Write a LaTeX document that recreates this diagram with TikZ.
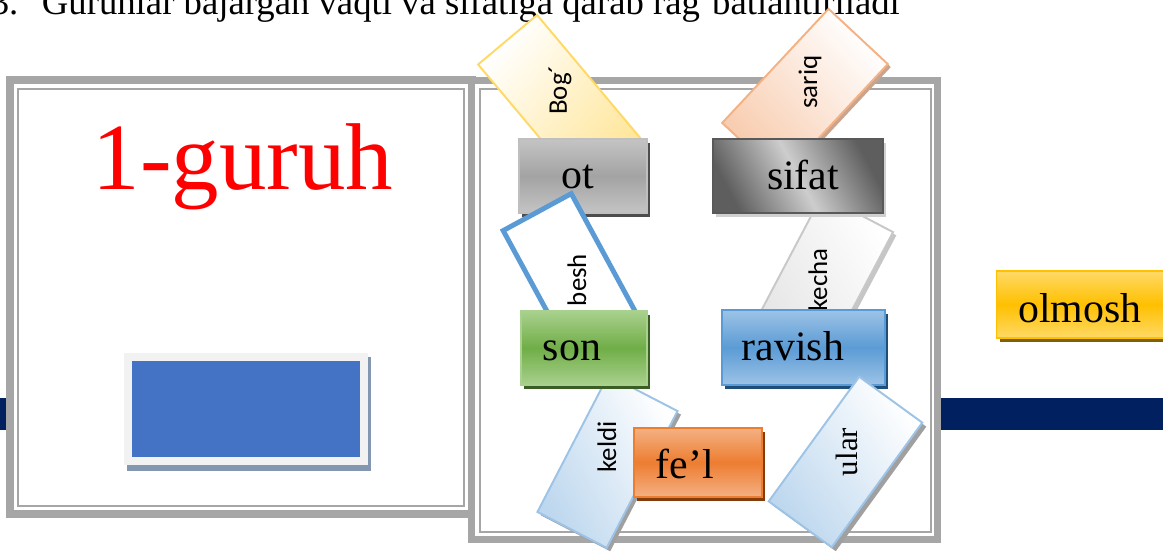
\documentclass[tikz,border=0pt]{standalone}
\usepackage{fontspec}
\setmainfont{Liberation Serif}
\newfontfamily\cardfont{Carlito}
\definecolor{navy}{HTML}{002060}
\definecolor{framegray}{HTML}{A6A6A6}
\definecolor{blueRect}{HTML}{4472C4}
\definecolor{blueRectSh}{HTML}{8497B0}
\definecolor{lightFrame}{HTML}{F2F2F2}
\definecolor{otTop}{HTML}{C4C4C4}
\definecolor{otMid}{HTML}{A3A3A3}
\definecolor{otBd}{HTML}{BFBFBF}
\definecolor{otSh}{HTML}{4D4D4D}
\definecolor{sfDark}{HTML}{5E5E5E}
\definecolor{sfLight}{HTML}{CDCDCD}
\definecolor{sfBd}{HTML}{595959}
\definecolor{sfSh}{HTML}{D0D0D0}
\definecolor{gnTop}{HTML}{A9D18E}
\definecolor{gnMid}{HTML}{70AD47}
\definecolor{gnSh}{HTML}{3B5E25}
\definecolor{blTop}{HTML}{9DC3E6}
\definecolor{blMid}{HTML}{5B9BD5}
\definecolor{blSh}{HTML}{1F4E79}
\definecolor{orTop}{HTML}{F4B183}
\definecolor{orMid}{HTML}{ED7D31}
\definecolor{orSh}{HTML}{843C0C}
\definecolor{ylTop}{HTML}{FFD966}
\definecolor{ylMid}{HTML}{FFC000}
\definecolor{ylSh}{HTML}{7F6000}
\definecolor{bogFill}{HTML}{FFE699}
\definecolor{bogBd}{HTML}{FFD966}
\definecolor{sarFill}{HTML}{F8CBAD}
\definecolor{sarBd}{HTML}{F4B183}
\definecolor{sarSh}{HTML}{C9A48E}
\definecolor{kecFill}{HTML}{E4E4E4}
\definecolor{kecBd}{HTML}{C8C8C8}
\definecolor{cardSh}{HTML}{A0A0A0}
\definecolor{ltBlue}{HTML}{BDD7EE}
\definecolor{ltBlueBd}{HTML}{9DC3E6}
\tikzset{
  pbox/.style={rectangle, inner sep=0pt, line width=1pt},
  shbox/.style={rectangle, inner sep=0pt, draw=none},
  lbl/.style={font=\fontsize{23.8}{28}\selectfont, inner sep=0pt, anchor=base},
  clbl/.style={font=\cardfont\fontsize{15.3}{18}\selectfont, rotate=90, inner sep=0pt},
  slbl/.style={font=\fontsize{17.6}{20}\selectfont, rotate=90, inner sep=0pt},
  card/.style={rectangle, inner sep=0pt, line width=1.1pt},
  thickframe/.style={draw=framegray, line width=4.5pt},
  thinframe/.style={draw=framegray, line width=1.1pt},
}
\begin{document}
\begin{tikzpicture}[x=0.02cm,y=-0.02cm]
\useasboundingbox (0,0) rectangle (1163,554);
\clip (0,0) rectangle (1163,554);
% navy band
\fill[navy] (0,398) rectangle (1163,430);
% left box
\fill[white] (6,76) rectangle (476,518);
\draw[thickframe] (10,80) rectangle (472,514);
\draw[thinframe] (18,89) rectangle (464,506);
% right box
\fill[white] (468,77) rectangle (941,543);
\draw[thickframe] (471.5,80.5) rectangle (937.5,539.5);
\draw[thinframe] (480,89) rectangle (931,532);
% blue rectangle in left box
\fill[blueRectSh] (127,357) rectangle (371,471);
\fill[lightFrame] (124,353) rectangle (368,465);
\node[rectangle, fill=blueRect, minimum width=4.56cm, minimum height=1.92cm, inner sep=0pt] (blue) at (246,409) {};
% title
\node[font=\fontsize{54}{60}\selectfont, text=red, inner sep=0pt, anchor=base] (title) at (243,190) {1-guruh};
% header
\node[font=\fontsize{20.9}{24}\selectfont, inner sep=0pt, anchor=base west] (head) at (-9.5,15) {3.\hspace{13.4pt}Guruhlar bajargan vaqti va sifatiga qarab rag‘batlantiriladi};
% cards behind boxes
\node[card, draw=bogBd, top color=white, bottom color=bogFill, shading angle=50, minimum width=3.2cm, minimum height=1.54cm, rotate=-50] (bog) at (559,101) {};
\node[clbl] (bogT) at (560,90) {Bog´};
\node[card, fill=sarSh, minimum width=3.12cm, minimum height=1.62cm, rotate=47] (sarS) at (808,96.5) {};
\node[card, draw=sarBd, top color=white, bottom color=sarFill, shading angle=-47, minimum width=3.12cm, minimum height=1.62cm, rotate=47] (sar) at (805,93.5) {};
\node[clbl] (sarT) at (810,82) {sariq};
\node[card, fill=cardSh!60, minimum width=3.0cm, minimum height=1.6cm, rotate=62.2] (kecS) at (826,283) {};
\node[card, draw=kecBd, top color=white, bottom color=kecFill, shading angle=-62, minimum width=3.0cm, minimum height=1.6cm, rotate=62.2] (kec) at (822.7,279.8) {};
\node[clbl] (kecT) at (818,280) {kecha};
\node[card, fill=cardSh, minimum width=3.08cm, minimum height=1.56cm, rotate=62.6] (kelS) at (611,465) {};
\node[card, draw=ltBlueBd, top color=white, bottom color=ltBlue, shading angle=-62, minimum width=3.08cm, minimum height=1.56cm, rotate=62.6] (kel) at (607.5,461.5) {};
\node[clbl] (kelT) at (607,447) {keldi};
% ot and sifat boxes
\node[shbox, fill=otSh, minimum width=2.56cm, minimum height=1.48cm] (otS) at (586,180) {};
\node[pbox, draw=otBd, top color=otTop, bottom color=otTop, middle color=otMid, minimum width=2.56cm, minimum height=1.48cm] (ot) at (583,176) {};
\node[lbl] (otT) at (578,188) {ot};
\node[shbox, fill=sfSh, minimum width=3.4cm, minimum height=1.48cm] (sfS) at (801,180) {};
\node[pbox, draw=sfBd, top color=sfDark, bottom color=sfDark, middle color=sfLight, shading angle=-62, minimum width=3.4cm, minimum height=1.48cm] (sifat) at (798,176) {};
\node[lbl] (sifatT) at (803,190) {sifat};
% besh card (over ot, under son)
\node[card, draw=blMid, line width=2.8pt, fill=white, minimum width=3.0cm, minimum height=1.55cm, rotate=-61.5] (besh) at (573,278) {};
\node[clbl] (beshT) at (577,280) {besh};
% son, ravish, fe'l, olmosh
\node[shbox, fill=gnSh, minimum width=2.52cm, minimum height=1.48cm] (sonS) at (587,352) {};
\node[pbox, draw=gnTop, top color=gnTop, bottom color=gnTop, middle color=gnMid, minimum width=2.52cm, minimum height=1.48cm] (son) at (584,348) {};
\node[lbl] (sonT) at (572,360) {son};
\node[shbox, fill=blSh, minimum width=3.26cm, minimum height=1.5cm] (ravS) at (806.5,351.5) {};
\node[pbox, draw=blMid, top color=blTop, bottom color=blTop, middle color=blMid, minimum width=3.26cm, minimum height=1.5cm] (ravish) at (803.5,347.5) {};
\node[lbl] (ravishT) at (793,360) {ravish};
\node[shbox, fill=orSh, minimum width=2.56cm, minimum height=1.38cm] (felS) at (701,466.5) {};
\node[pbox, draw=orMid, top color=orTop, bottom color=orTop, middle color=orMid, minimum width=2.56cm, minimum height=1.38cm] (fel) at (698,462.5) {};
\node[lbl] (felT) at (685,478) {fe’l};
\node[shbox, fill=ylSh, minimum width=3.66cm, minimum height=1.34cm] (olmS) at (1091,308.5) {};
\node[pbox, draw=ylMid, top color=ylTop, bottom color=ylTop, middle color=ylMid, minimum width=3.66cm, minimum height=1.34cm] (olmosh) at (1088,304.5) {};
\node[lbl] (olmoshT) at (1080,322) {olmosh};
% ular card (over ravish)
\node[card, fill=cardSh, minimum width=3.08cm, minimum height=1.56cm, rotate=54] (ulS) at (849.5,466) {};
\node[card, draw=ltBlueBd, top color=white, bottom color=ltBlue, shading angle=-54, minimum width=3.08cm, minimum height=1.56cm, rotate=54] (ular) at (845.5,462) {};
\node[slbl] (ularT) at (847,452) {ular};
\end{tikzpicture}
\end{document}
